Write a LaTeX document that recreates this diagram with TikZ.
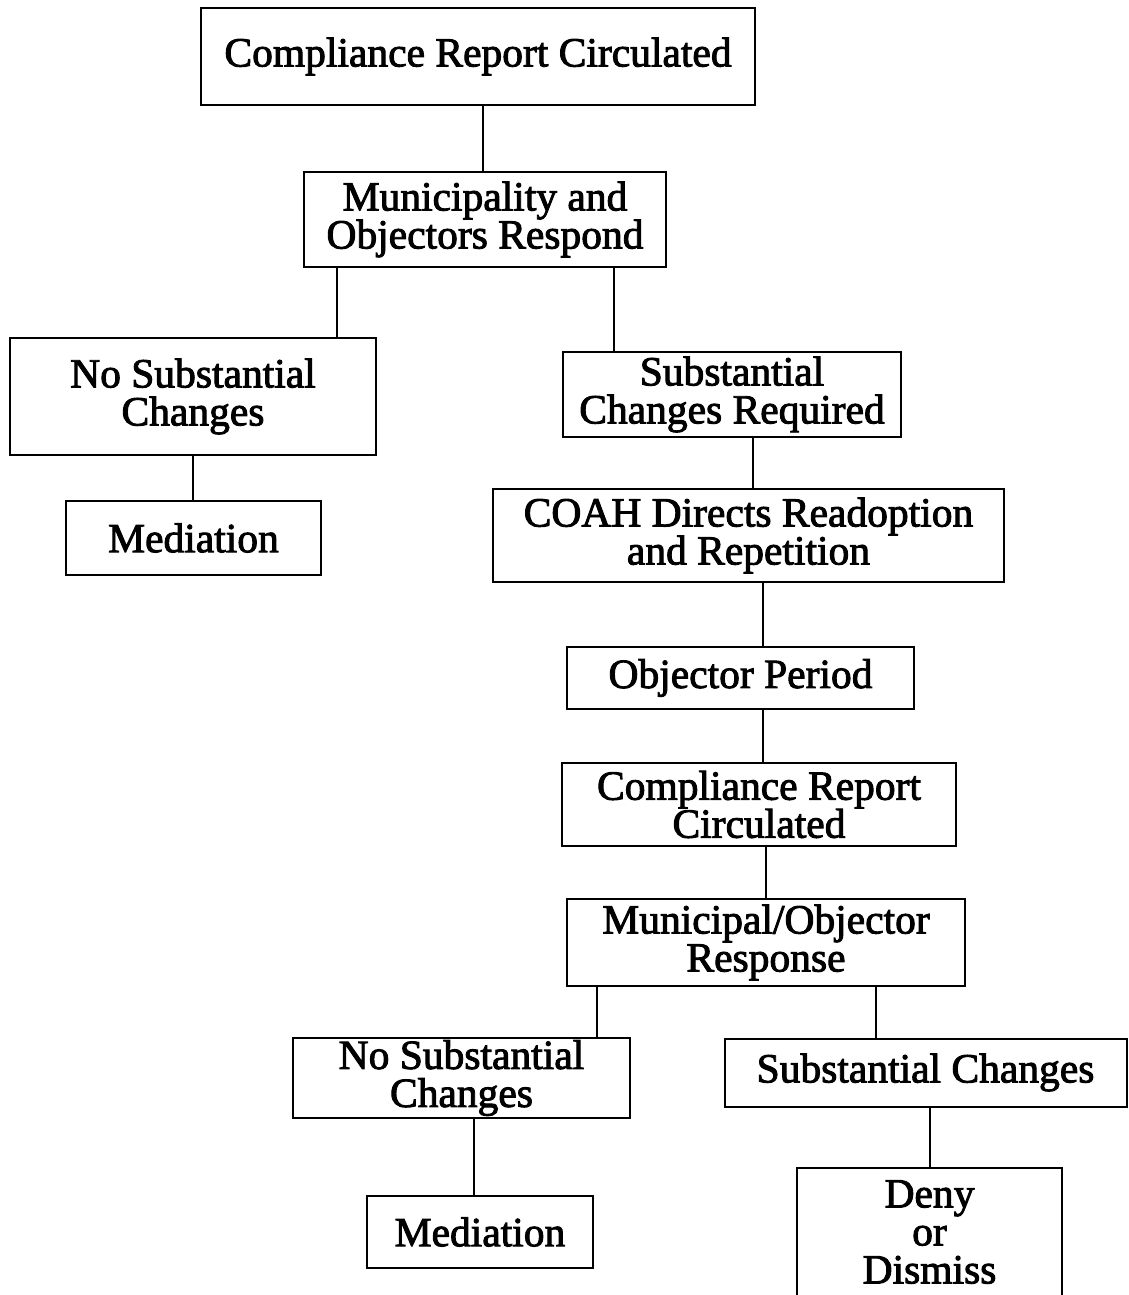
\documentclass[tikz,border=0pt]{standalone}
\usepackage{fontspec}
\setmainfont{Liberation Serif}
\newfontfamily\stagefont[FakeBold=2.2]{Liberation Serif}
\usetikzlibrary{positioning, calc}
\tikzset{
  stage/.style={
	draw, line width=2pt, % box frame
	align=center, inner sep=0pt,
	font=\stagefont\fontsize{41.5}{38}\selectfont,
  },
  link/.style={line width=1.6pt},
}

\begin{document}
\begin{tikzpicture}[x=1pt, y=-1pt]
	\useasboundingbox (0,0) rectangle (1128,1295);

	\node[stage, minimum width=554, minimum height=97] (report) at (478,56.5) {Compliance Report Circulated};
	\node[stage, minimum width=362, minimum height=95] (respond) at (485,219.5) {Municipality and\\Objectors Respond};

	\node[stage, minimum width=366, minimum height=117] (nochange) at (193,396.5) {No Substantial\\Changes};
	\node[stage, minimum width=255, minimum height=74] (mediate) at (193.5,538) {Mediation};

	\node[stage, minimum width=338, minimum height=85] (change) at (732,394.5) {Substantial\\Changes Required};
	\node[stage, minimum width=511, minimum height=93] (readopt) at (748.5,535.5) {COAH Directs Readoption\\and Repetition};
	\node[stage, minimum width=347, minimum height=62] (objper) at (740.5,678) {Objector Period};
	\node[stage, minimum width=394, minimum height=83] (report2) at (759,804.5) {Compliance Report\\Circulated};
	\node[stage, minimum width=398, minimum height=87] (respond2) at (766,942.5) {Municipal/Objector\\Response};

	\node[stage, minimum width=337, minimum height=80] (nochange2) at (461.5,1078) {No Substantial\\Changes};
	\node[stage, minimum width=226, minimum height=72] (mediate2) at (480,1232) {Mediation};

	\node[stage, minimum width=402, minimum height=68] (change2) at (925.5,1072.5) {Substantial Changes};
	\node[stage, minimum width=265, minimum height=128] (deny) at (929.5,1232) {Deny\\or\\Dismiss};

	% x positions of the vertical links
	\coordinate (a) at (483,0);
	\coordinate (b) at (337,0);
	\coordinate (c) at (614,0);
	\coordinate (d) at (193,0);
	\coordinate (e) at (753,0);
	\coordinate (f) at (763,0);
	\coordinate (g) at (766,0);
	\coordinate (h) at (597,0);
	\coordinate (i) at (876,0);
	\coordinate (j) at (474,0);
	\coordinate (k) at (930,0);

	\draw [link] (report.south -| a) -- (respond.north -| a);
	\draw [link] (respond.south -| b) -- (nochange.north -| b);
	\draw [link] (respond.south -| c) -- (change.north -| c);
	\draw [link] (nochange.south -| d) -- (mediate.north -| d);
	\draw [link] (change.south -| e) -- (readopt.north -| e);
	\draw [link] (readopt.south -| f) -- (objper.north -| f);
	\draw [link] (objper.south -| f) -- (report2.north -| f);
	\draw [link] (report2.south -| g) -- (respond2.north -| g);
	\draw [link] (respond2.south -| h) -- (nochange2.north -| h);
	\draw [link] (respond2.south -| i) -- (change2.north -| i);
	\draw [link] (nochange2.south -| j) -- (mediate2.north -| j);
	\draw [link] (change2.south -| k) -- (deny.north -| k);

\end{tikzpicture}
\end{document}
